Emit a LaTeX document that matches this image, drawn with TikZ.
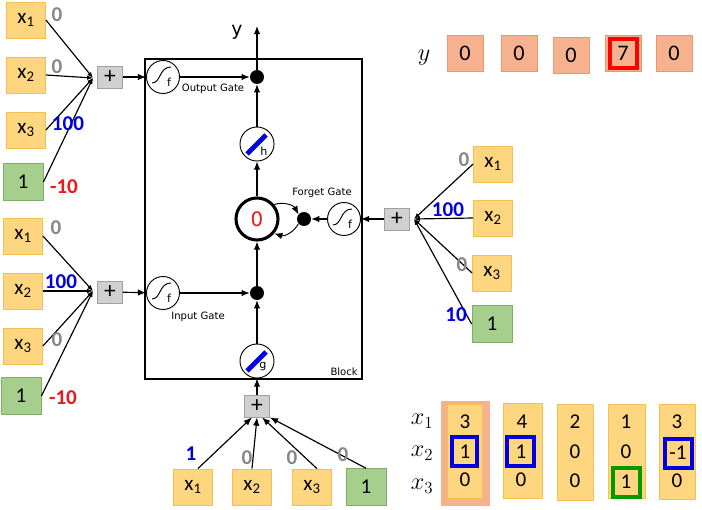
\documentclass[tikz,border=0pt]{standalone}
\usepackage{fontspec}
\setmainfont{Carlito}
\newfontfamily\djv{DejaVu Sans}
\usetikzlibrary{arrows.meta,calc}
\definecolor{ybox}{RGB}{255,214,128}
\definecolor{yborder}{RGB}{245,192,80}
\definecolor{gbox}{RGB}{166,206,140}
\definecolor{gborder}{RGB}{125,175,105}
\definecolor{sbox}{RGB}{246,178,142}
\definecolor{sborder}{RGB}{236,150,110}
\definecolor{pbox}{RGB}{208,208,208}
\definecolor{pborder}{RGB}{160,160,160}
\definecolor{wgray}{RGB}{135,135,135}
\definecolor{wblue}{RGB}{0,0,225}
\definecolor{wred}{RGB}{235,25,25}
\tikzset{
  inbox/.style={draw=yborder, fill=ybox, line width=0.7pt, minimum width=1.17cm, minimum height=1.08cm, inner sep=0pt, font=\fontsize{18}{20}\selectfont},
  onebox/.style={draw=gborder, fill=gbox, line width=0.7pt, minimum width=1.2cm, minimum height=1.1cm, inner sep=0pt, font=\fontsize{18}{20}\selectfont},
  ybx/.style={draw=sborder, fill=sbox, line width=0.7pt, minimum size=1.08cm, inner sep=0pt, font=\fontsize{19}{21}\selectfont},
  plusbox/.style={draw=pborder, fill=pbox, line width=0.7pt, minimum width=0.75cm, minimum height=0.66cm, inner sep=0pt, font=\fontsize{20}{20}\selectfont},
  wt/.style={font=\fontsize{18}{20}\selectfont\bfseries, inner sep=0pt},
  wg/.style={wt, text=wgray},
  wb/.style={wt, text=wblue},
  wr/.style={wt, text=wred},
  num/.style={font=\fontsize{18}{20}\selectfont, inner sep=0pt},
  sig/.style={circle, draw, fill=white, line width=0.8pt, minimum size=0.99cm, inner sep=0pt,
    path picture={\begin{scope}[shift={(path picture bounding box.center)}]
      \draw[line width=0.8pt] (-11,6) .. controls (-2,6) and (-4,-10) .. (8,-10);
      \end{scope}}},
  tanhc/.style={circle, draw, fill=white, line width=0.8pt, minimum size=1.02cm, inner sep=0pt,
    path picture={\begin{scope}[shift={(path picture bounding box.center)}]
      \draw[wblue, line width=4pt] (-10,10) -- (9,-9);
      \end{scope}}},
  lett/.style={font=\djv\fontsize{9.5}{10}\selectfont, inner sep=0pt},
  gatelbl/.style={font=\djv\fontsize{8.6}{10}\selectfont, inner sep=0pt},
  dot/.style={circle, fill=black, minimum size=0.42cm, inner sep=0pt},
  arr/.style={-{Latex[length=7pt,width=5.5pt]}, line width=1pt},
  cv/.style={-{Latex[length=5pt,width=4pt]}, line width=1pt},
  mark box/.style={line width=2.6pt},
}
\begin{document}
\begin{tikzpicture}[x=0.03cm, y=-0.03cm]
\useasboundingbox (0,0) rectangle (702,510);
\fill[white] (0,0) rectangle (702,510);

% ---------------- block ----------------
\draw[line width=1.3pt] (145,59) rectangle (362,379);
\node[gatelbl, anchor=south east] (blk) at (358,376) {Block};

\node[sig] (of) at (163,77) {};
\node[lett] (ofl) at ($(of)+(6,5)$) {f};
\node[dot] (od) at (257,77) {};
\node[gatelbl] (ogl) at (213,89) {Output Gate};
\coordinate (yt) at (257,26);
\node[font=\djv\fontsize{16}{16}\selectfont, inner sep=0pt] (ylbl) at (237,32) {y};

\node[tanhc] (h) at (257,144) {};
\node[lett] (hl) at ($(h)+(7,7)$) {h};

\node[circle, draw, line width=2.6pt, fill=white, minimum size=1.26cm, inner sep=0pt, text=wred, font=\djv\fontsize{17}{18}\selectfont] (cell) at (257,219) {0};
\node[dot] (fd) at (304,219) {};
\node[sig] (ff) at (344,219) {};
\node[lett] (ffl) at ($(ff)+(6,5)$) {f};
\node[gatelbl] (fgl) at (322,193) {Forget Gate};

\node[dot] (id) at (257,293) {};
\node[sig] (if) at (163,293) {};
\node[lett] (ifl) at ($(if)+(6,5)$) {f};
\node[gatelbl] (igl) at (198,317) {Input Gate};

\node[tanhc] (g) at (257,361) {};
\node[lett] (gl) at ($(g)+(6,6)$) {g};

\draw[arr] (of) -- (od);
\draw[arr] (od) -- (yt);
\draw[arr] (h) -- (od);
\draw[arr] (cell) -- (h);
\draw[arr] (ff) -- (fd);
\draw[arr, line width=0.8pt] (cell.40) to[bend left=40] (fd.140);
\draw[arr, line width=0.8pt] (fd.-140) to[bend left=40] (cell.-40);
\draw[arr] (if) -- (id);
\draw[arr] (id) -- (cell);
\draw[arr] (g) -- (id);

% ---------------- top-left group (output gate) ----------------
\node[inbox] (a1) at (26,20) {x\textsubscript{1}};
\node[inbox] (a2) at (26,75) {x\textsubscript{2}};
\node[inbox] (a3) at (26,130) {x\textsubscript{3}};
\node[onebox] (a4) at (23,182) {1};
\coordinate (c1) at (93,78);
\draw[cv] (a1.east) -- (c1);
\draw[cv] (a2.east) -- (c1);
\draw[cv] (a3.east) -- (c1);
\draw[cv] (a4.east) -- (c1);
\node[wg] (wa1) at (57,15) {0};
\node[wg] (wa2) at (57,67) {0};
\node[wb] (wa3) at (68,124) {100};
\node[wr] (wa4) at (64,187) {-10};
\node[plusbox] (p1) at (110,77) {+};
\draw[arr] (p1) -- (of);

% ---------------- left-bottom group (input gate) ----------------
\node[inbox] (l1) at (23,236) {x\textsubscript{1}};
\node[inbox] (l2) at (23,291) {x\textsubscript{2}};
\node[inbox] (l3) at (23,346) {x\textsubscript{3}};
\node[onebox] (l4) at (21,396) {1};
\coordinate (c3) at (93,291);
\draw[cv] (l1.east) -- (c3);
\draw[cv] (l2.east) -- (c3);
\draw[cv] (l3.east) -- (c3);
\draw[cv] (l4.east) -- (c3);
\node[wg] (wl1) at (56,228) {0};
\node[wb] (wl2) at (61,282) {100};
\node[wg] (wl3) at (57,340) {0};
\node[wr] (wl4) at (63,398) {-10};
\node[plusbox] (p4) at (110,292) {+};
\draw[arr] (p4) -- (if);

% ---------------- right group (forget gate) ----------------
\node[inbox] (r1) at (493,164) {x\textsubscript{1}};
\node[inbox] (r2) at (493,218) {x\textsubscript{2}};
\node[inbox] (r3) at (492,273) {x\textsubscript{3}};
\node[onebox] (r4) at (492,324) {1};
\coordinate (c2) at (414,219);
\draw[cv] (r1.west) -- (c2);
\draw[cv] (r2.west) -- (c2);
\draw[cv] (r3.west) -- (c2);
\draw[cv] (r4.west) -- (c2);
\node[wg] (wr1) at (464,160) {0};
\node[wb] (wr2) at (448,210) {100};
\node[wg] (wr3) at (462,265) {0};
\node[wb] (wr4) at (456,315) {10};
\node[plusbox] (p2) at (397,219) {+};
\draw[arr] (p2) -- (ff);

% ---------------- bottom group (cell input) ----------------
\node[inbox] (b1) at (193,487) {x\textsubscript{1}};
\node[inbox] (b2) at (252,487) {x\textsubscript{2}};
\node[inbox] (b3) at (312,487) {x\textsubscript{3}};
\node[onebox] (b4) at (366,487) {1};
\node[plusbox] (p3) at (257,406) {+};
\draw[arr] (b1.75) -- (p3.-114);
\draw[arr] (b2.north) -- (p3.south);
\draw[arr] (b3.75) -- (p3.-66);
\draw[arr] (b4.north) -- (p3.south east);
\draw[arr] (p3) -- (g);
\node[wb] (wb1) at (191,454) {1};
\node[wg] (wb2) at (247,458) {0};
\node[wg] (wb3) at (292,458) {0};
\node[wg] (wb4) at (343,455) {0};

% ---------------- y row ----------------
\node[font=\fontsize{21}{22}\selectfont, inner sep=0pt] (yrow) at (424,58) {$y$};
\node[ybx] (y1) at (465,53) {0};
\node[ybx] (y2) at (519,53) {0};
\node[ybx] (y3) at (571,55) {0};
\node[ybx] (y4) at (623,53) {7};
\node[ybx] (y5) at (674,53) {0};
\draw[red, mark box] (610,39) rectangle (637,68);

% ---------------- x matrix ----------------
\node[font=\fontsize{20}{21}\selectfont, inner sep=0pt] (mx1) at (422,421) {$x_1$};
\node[font=\fontsize{20}{21}\selectfont, inner sep=0pt] (mx2) at (422,453) {$x_2$};
\node[font=\fontsize{20}{21}\selectfont, inner sep=0pt] (mx3) at (422,486) {$x_3$};
\fill[sbox] (441,401) rectangle (490,506);
\draw[yborder, fill=ybox, line width=0.7pt] (447,404) rectangle (482,498);
\draw[yborder, fill=ybox, line width=0.7pt] (503,403) rectangle (542,498);
\draw[yborder, fill=ybox, line width=0.7pt] (557,404) rectangle (593,500);
\draw[yborder, fill=ybox, line width=0.7pt] (608,404) rectangle (645,498);
\draw[yborder, fill=ybox, line width=0.7pt] (659,404) rectangle (695,499);
\node[num] (m11) at (465,422) {3};
\node[num] (m12) at (465,452) {1};
\node[num] (m13) at (465,480) {0};
\node[num] (m21) at (522,422) {4};
\node[num] (m22) at (521,452) {1};
\node[num] (m23) at (521,480) {0};
\node[num] (m31) at (575,422) {2};
\node[num] (m32) at (575,452) {0};
\node[num] (m33) at (575,481) {0};
\node[num] (m41) at (626,422) {1};
\node[num] (m42) at (626,452) {0};
\node[num] (m43) at (626,482) {1};
\node[num] (m51) at (677,422) {3};
\node[num] (m52) at (678,453) {-1};
\node[num] (m53) at (677,481) {0};
\draw[wblue, mark box] (452,437) rectangle (477,466);
\draw[wblue, mark box] (507,437) rectangle (534,466);
\draw[wblue, mark box] (665,439) rectangle (692,468);
\draw[green!60!black, mark box] (613,468) rectangle (640,497);
\end{tikzpicture}
\end{document}
